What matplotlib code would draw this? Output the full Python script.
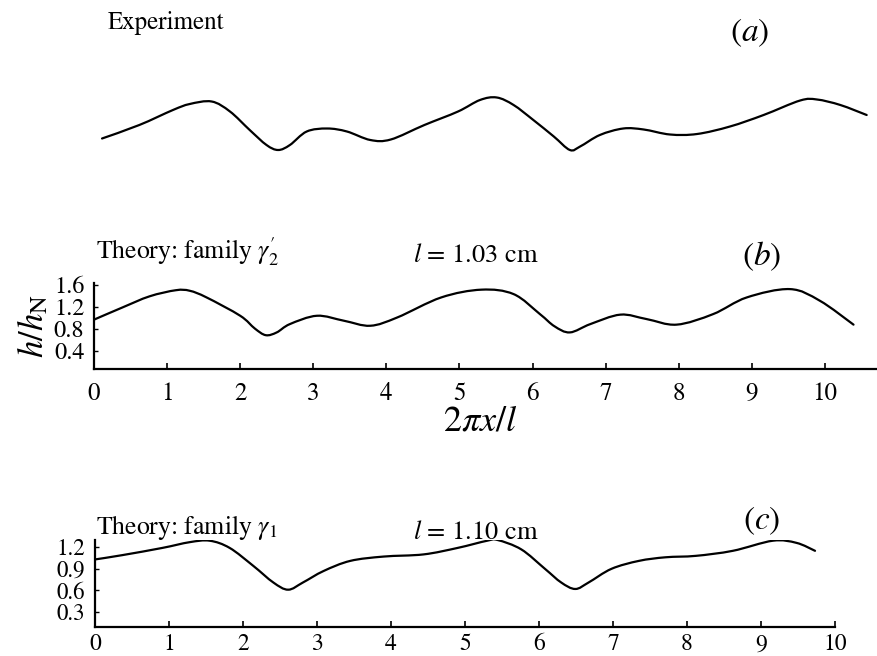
import matplotlib
matplotlib.use("Agg")
import matplotlib.pyplot as plt
from matplotlib.path import Path
from matplotlib.patches import PathPatch

# Measured surface profile (arbitrary height units), x in units of 2*pi*x/l
exp_x = [0.11, 0.62, 1.08, 1.31, 1.61, 1.86, 2.13, 2.36, 2.52, 2.68, 2.91, 3.19,
         3.46, 3.78, 4.06, 4.52, 4.98, 5.28, 5.51, 5.74, 6.01, 6.29, 6.51, 6.65,
         6.92, 7.24, 7.52, 7.88, 8.25, 8.70, 9.16, 9.66, 9.89, 10.21, 10.57]
exp_h = [0.43, 0.70, 1.00, 1.12, 1.17, 0.97, 0.60, 0.30, 0.20, 0.30, 0.57, 0.63,
         0.57, 0.40, 0.41, 0.70, 0.97, 1.20, 1.25, 1.10, 0.80, 0.47, 0.20, 0.27,
         0.50, 0.63, 0.61, 0.51, 0.52, 0.67, 0.90, 1.19, 1.21, 1.10, 0.90]

# Theory, family gamma'_2, l = 1.03 cm
b_x = [0.0, 0.39, 0.76, 1.12, 1.31, 1.54, 2.0, 2.2, 2.35, 2.5, 2.68, 3.05, 3.42,
       3.78, 4.15, 4.75, 5.30, 5.74, 6.10, 6.3, 6.51, 6.79, 7.20, 7.56, 7.97,
       8.47, 8.93, 9.52, 9.93, 10.39]
b_h = [0.97, 1.19, 1.39, 1.50, 1.49, 1.37, 1.04, 0.81, 0.69, 0.74, 0.89, 1.04, 0.95,
       0.86, 1.01, 1.37, 1.51, 1.43, 1.07, 0.85, 0.74, 0.89, 1.06, 0.98, 0.88,
       1.07, 1.37, 1.52, 1.31, 0.88]

# Theory, family gamma_1, l = 1.10 cm
c_x = [0.0, 0.37, 0.91, 1.28, 1.55, 1.82, 2.14, 2.41, 2.61, 2.81, 3.09, 3.45,
       3.90, 4.44, 4.90, 5.30, 5.44, 5.76, 6.08, 6.30, 6.49, 6.67, 6.98, 7.35,
       7.71, 8.12, 8.62, 9.16, 9.48, 9.73]
c_h = [1.03, 1.09, 1.19, 1.27, 1.29, 1.19, 0.94, 0.71, 0.61, 0.71, 0.87, 1.01,
       1.07, 1.10, 1.19, 1.29, 1.30, 1.17, 0.90, 0.71, 0.62, 0.71, 0.90, 1.01,
       1.06, 1.08, 1.15, 1.29, 1.26, 1.15]

b_yticks = [0.4, 0.8, 1.2, 1.6]
c_yticks = [0.3, 0.6, 0.9, 1.2]
xticks = list(range(11))

plt.rcParams["font.family"] = "STIXGeneral"
plt.rcParams["mathtext.fontset"] = "stix"

W, H = 878, 656
fig = plt.figure(figsize=(W / 100, H / 100), dpi=100)


def px_axes(left, top, right, bottom):
    return fig.add_axes([left / W, 1 - bottom / H, (right - left) / W, (bottom - top) / H])


def smooth_curve(ax, xs, ys, lw=1.6):
    # Catmull-Rom through the points, drawn as cubic Bezier segments
    pts = list(zip(xs, ys))
    verts = [pts[0]]
    codes = [Path.MOVETO]
    n = len(pts)
    for i in range(n - 1):
        p0 = pts[max(i - 1, 0)]
        p1 = pts[i]
        p2 = pts[i + 1]
        p3 = pts[min(i + 2, n - 1)]
        c1 = (p1[0] + (p2[0] - p0[0]) / 6, p1[1] + (p2[1] - p0[1]) / 6)
        c2 = (p2[0] - (p3[0] - p1[0]) / 6, p2[1] - (p3[1] - p1[1]) / 6)
        verts += [c1, c2, p2]
        codes += [Path.CURVE4] * 3
    ax.add_patch(PathPatch(Path(verts, codes), fill=False, lw=lw, ec="black",
                           capstyle="round", joinstyle="round"))


def style_axis(ax, yticks, xpad, xsize, ysize):
    for s in ("top", "right"):
        ax.spines[s].set_visible(False)
    for s in ("left", "bottom"):
        ax.spines[s].set_linewidth(1.6)
    ax.set_xticks(xticks)
    ax.set_yticks(yticks)
    ax.set_yticklabels([f"{v:.1f}" for v in yticks])
    ax.tick_params(axis="x", direction="in", length=4, width=1.2, pad=xpad, labelsize=xsize)
    ax.tick_params(axis="y", direction="in", length=3, width=1.0, pad=7, labelsize=ysize)
    ax.patch.set_alpha(0)


# (a) experiment, no axes
ax_a = px_axes(94, 60, 878, 160)
smooth_curve(ax_a, exp_x, exp_h)
ax_a.set_xlim(0, 784 / 73.1)
ax_a.set_ylim(0, 2)
ax_a.axis("off")

# (b) theory gamma'_2
ax_b = px_axes(94, 283, 878, 369)
smooth_curve(ax_b, b_x, b_h)
ax_b.set_xlim(0, 784 / 73.1)
ax_b.set_ylim(0.081, 1.63)
style_axis(ax_b, b_yticks, 9, 18, 17.5)
ax_b.set_ylabel(r"$h/h_{\mathrm{N}}$", fontsize=25, labelpad=2)

# (c) theory gamma_1
ax_c = px_axes(95, 540, 835, 627)
smooth_curve(ax_c, c_x, c_h)
ax_c.set_xlim(0, 10)
ax_c.set_ylim(0.092, 1.30)
style_axis(ax_c, c_yticks, 5, 17, 16.5)


def ftext(x, y, s, **kw):
    fig.text(x / W, 1 - y / H, s, **kw)


ftext(108, 23, "Experiment", fontsize=18, va="center", ha="left")
ftext(750, 33, r"($a$)", fontsize=24, va="center", ha="center")

ftext(96, 252, r"Theory: family $\gamma_{2}'$", fontsize=18.5, va="center", ha="left")
ftext(476, 256, r"$l$ = 1.03 cm", fontsize=19, va="center", ha="center")
ftext(762, 256, r"($b$)", fontsize=24, va="center", ha="center")
ftext(480, 422, r"$2\pi x/l$", fontsize=26, va="center", ha="center")

ftext(96, 528, r"Theory: family $\gamma_{1}$", fontsize=18.5, va="center", ha="left")
ftext(476, 533, r"$l$ = 1.10 cm", fontsize=19, va="center", ha="center")
ftext(762, 521, r"($c$)", fontsize=24, va="center", ha="center")

fig.savefig("out.png", dpi=100)
